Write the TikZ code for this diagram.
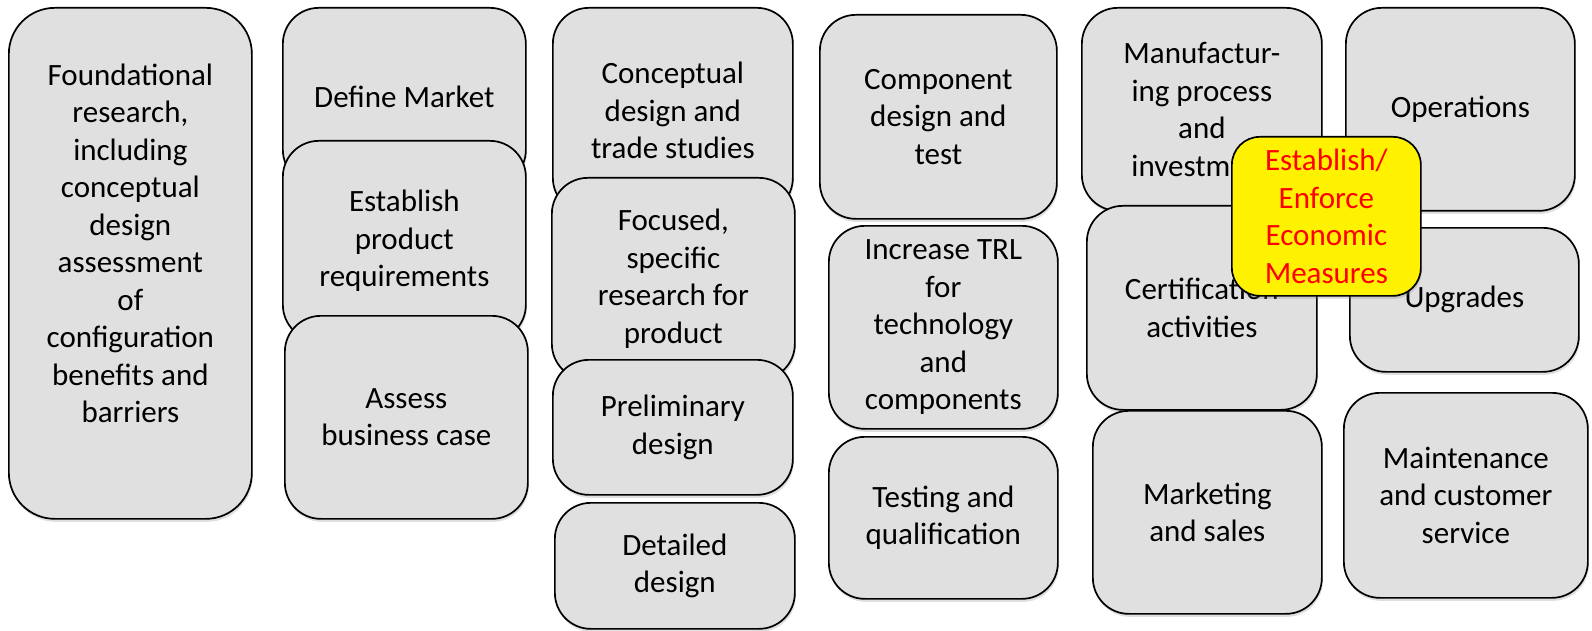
\documentclass[tikz,border=0pt]{standalone}
\usepackage{fontspec}
\setmainfont{Carlito}
\usepackage{xcolor}
\usepackage{tikz}
\usetikzlibrary{shadows}

\definecolor{boxgrey}{RGB}{224,224,224}

\begin{document}
\begin{tikzpicture}[x=1pt,y=-1pt,
    stage/.style={draw=black,line width=1.7pt,fill=boxgrey,rounded corners=36pt,
      anchor=north west,align=center,inner sep=0pt,
      font=\fontsize{31}{37.5}\selectfont,
      drop shadow={shadow xshift=1pt,shadow yshift=-3pt,opacity=0.25}},
    econ/.style={stage,fill=yellow,text=red,rounded corners=28pt}]
  \useasboundingbox (0,0) rectangle (1592,631);

  % research column
  \node[stage,minimum width=243,minimum height=511,rounded corners=46pt,text depth=40pt] (found) at (8,7)
    {Foundational\\research,\\including\\conceptual\\design\\assessment\\of\\configuration\\benefits and\\barriers};

  % market column
  \node[stage,minimum width=243,minimum height=178] (market) at (282,7) {Define Market};
  \node[stage,minimum width=243,minimum height=200] (reqs) at (282,140) {Establish\\product\\requirements};
  \node[stage,minimum width=243,minimum height=203] (business) at (284,315) {Assess\\business case};

  % design column
  \node[stage,minimum width=240,minimum height=206] (concept) at (552,7) {Conceptual\\design and\\trade studies};
  \node[stage,minimum width=243,minimum height=202] (focused) at (551,177) {Focused,\\specific\\research for\\product};
  \node[stage,minimum width=240,minimum height=135] (prelim) at (552,359) {Preliminary\\design};
  \node[stage,minimum width=240,minimum height=126] (detailed) at (554,502) {Detailed\\design};

  % technology column
  \node[stage,minimum width=237,minimum height=204] (component) at (819,14) {Component\\design and\\test};
  \node[stage,minimum width=229,minimum height=203] (trl) at (828,225) {Increase TRL\\for\\technology\\and\\components};
  \node[stage,minimum width=229,minimum height=162] (testing) at (828,436) {Testing and\\qualification};

  % production column
  \node[stage,minimum width=240,minimum height=203] (manuf) at (1081,7) {Manufactur-\\ing process\\and\\investment};
  \node[stage,minimum width=230,minimum height=204] (cert) at (1086,205) {Certification\\activities};
  \node[stage,minimum width=229,minimum height=203] (marketing) at (1092,410) {Marketing\\and sales};

  % service column
  \node[stage,minimum width=229,minimum height=203] (ops) at (1345,7) {Operations};
  \node[stage,minimum width=229,minimum height=144] (upgrades) at (1349,227) {Upgrades};
  \node[stage,minimum width=244,minimum height=205] (maint) at (1343,392) {Maintenance\\and customer\\service};

  % economic measures on top
  \node[econ,minimum width=189,minimum height=159] (measures) at (1231,136) {Establish/\\Enforce\\Economic\\Measures};
\end{tikzpicture}
\end{document}
